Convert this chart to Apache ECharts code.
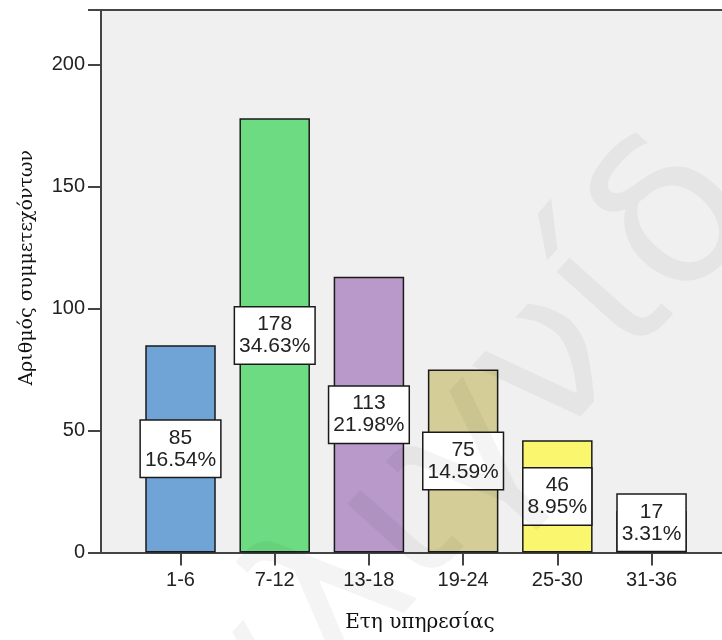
<!DOCTYPE html>
<html>
<head>
<meta charset="utf-8">
<script src="https://cdn.jsdelivr.net/npm/echarts@6/dist/echarts.min.js"></script>
<style>
html,body{margin:0;padding:0;background:#fff;}
#chart{width:722px;height:640px;}
</style>
</head>
<body>
<div id="chart"></div>
<script>
// ---- data ----
const categories = ['1-6', '7-12', '13-18', '19-24', '25-30', '31-36'];
const counts = [85, 178, 113, 75, 46, 17];
const yTicks = [0, 50, 100, 150, 200];
const yTitle = 'Αριθμός συμμετεχόντων';
const xTitle = 'Ετη υπηρεσίας';
const watermark = 'αλιγνίδ';

// ---- styles ----
const barColors = ['#70a4d6', '#6ddb82', '#b899c9', '#d4cd97', '#faf66e', '#d9d9d9'];
const total = counts.reduce((a, b) => a + b, 0);
const positions = categories.map((c, i) => i + 1);

const seriesData = counts.map((v, i) => ({
  value: [positions[i], v],
  itemStyle: { color: barColors[i] },
  label: i === counts.length - 1 ? { offset: [0, -9] } : undefined
}));

const chart = echarts.init(document.getElementById('chart'), null, { renderer: 'canvas' });
chart.setOption({
  animation: false,
  backgroundColor: '#ffffff',
  grid: {
    left: 101, top: 10, right: 0, bottom: 87.5,
    show: true, backgroundColor: '#f0f0f0', borderWidth: 0
  },
  graphic: [{
    type: 'text',
    x: 127, y: 682,
    rotation: 48 * Math.PI / 180,
    silent: true,
    z: 10,
    style: {
      text: watermark,
      font: '210px "DejaVu Sans"',
      fill: 'rgba(0,0,0,0.045)',
      verticalAlign: 'top'
    }
  }],
  xAxis: [{
    type: 'value',
    min: 0.156,
    max: 6.748,
    position: 'bottom',
    splitLine: { show: false },
    axisLine: { show: true, lineStyle: { color: '#444', width: 2 } },
    axisTick: { show: true, customValues: positions, length: 13, lineStyle: { color: '#444', width: 2 } },
    axisLabel: {
      customValues: positions,
      formatter: v => categories[Math.round(v) - 1] || '',
      fontFamily: 'Liberation Sans', fontSize: 20, color: '#222', margin: 18
    },
    name: xTitle,
    nameLocation: 'middle',
    nameGap: 60,
    nameTextStyle: { fontFamily: 'DejaVu Serif', fontSize: 20, color: '#111', padding: [0, 0, 0, 17] }
  }, {
    type: 'value',
    min: 0.156,
    max: 6.748,
    position: 'top',
    splitLine: { show: false },
    axisLine: { show: true, lineStyle: { color: '#444', width: 2 } },
    axisTick: { show: false },
    axisLabel: { show: false }
  }],
  yAxis: {
    type: 'value',
    min: yTicks[0],
    max: 222.4,
    interval: yTicks[1] - yTicks[0],
    splitLine: { show: false },
    axisLine: { show: true, lineStyle: { color: '#444', width: 2 } },
    axisTick: { show: true, length: 13, lineStyle: { color: '#444', width: 2 } },
    axisLabel: {
      fontFamily: 'Liberation Sans', fontSize: 20, color: '#222', margin: 16,
      formatter: v => yTicks.includes(v) ? String(v) : ''
    },
    name: yTitle,
    nameLocation: 'middle',
    nameRotate: 90,
    nameGap: 64,
    nameTextStyle: { fontFamily: 'DejaVu Serif', fontSize: 19, color: '#111', padding: [0, 0, 0, 27] }
  },
  series: [{
    type: 'bar',
    xAxisIndex: 0,
    barWidth: 70.5,
    data: seriesData,
    z: 2,
    itemStyle: { borderColor: '#1a1a1a', borderWidth: 1.5 },
    label: {
      show: true,
      position: 'inside',
      formatter: p => p.value[1] + '\n' + (p.value[1] / total * 100).toFixed(2) + '%',
      fontFamily: 'Liberation Sans', fontSize: 21, lineHeight: 22, color: '#222',
      backgroundColor: '#ffffff', borderColor: '#1a1a1a', borderWidth: 1.5,
      padding: [6, 4, 6, 4], align: 'center'
    }
  }]
});
</script>
</body>
</html>
